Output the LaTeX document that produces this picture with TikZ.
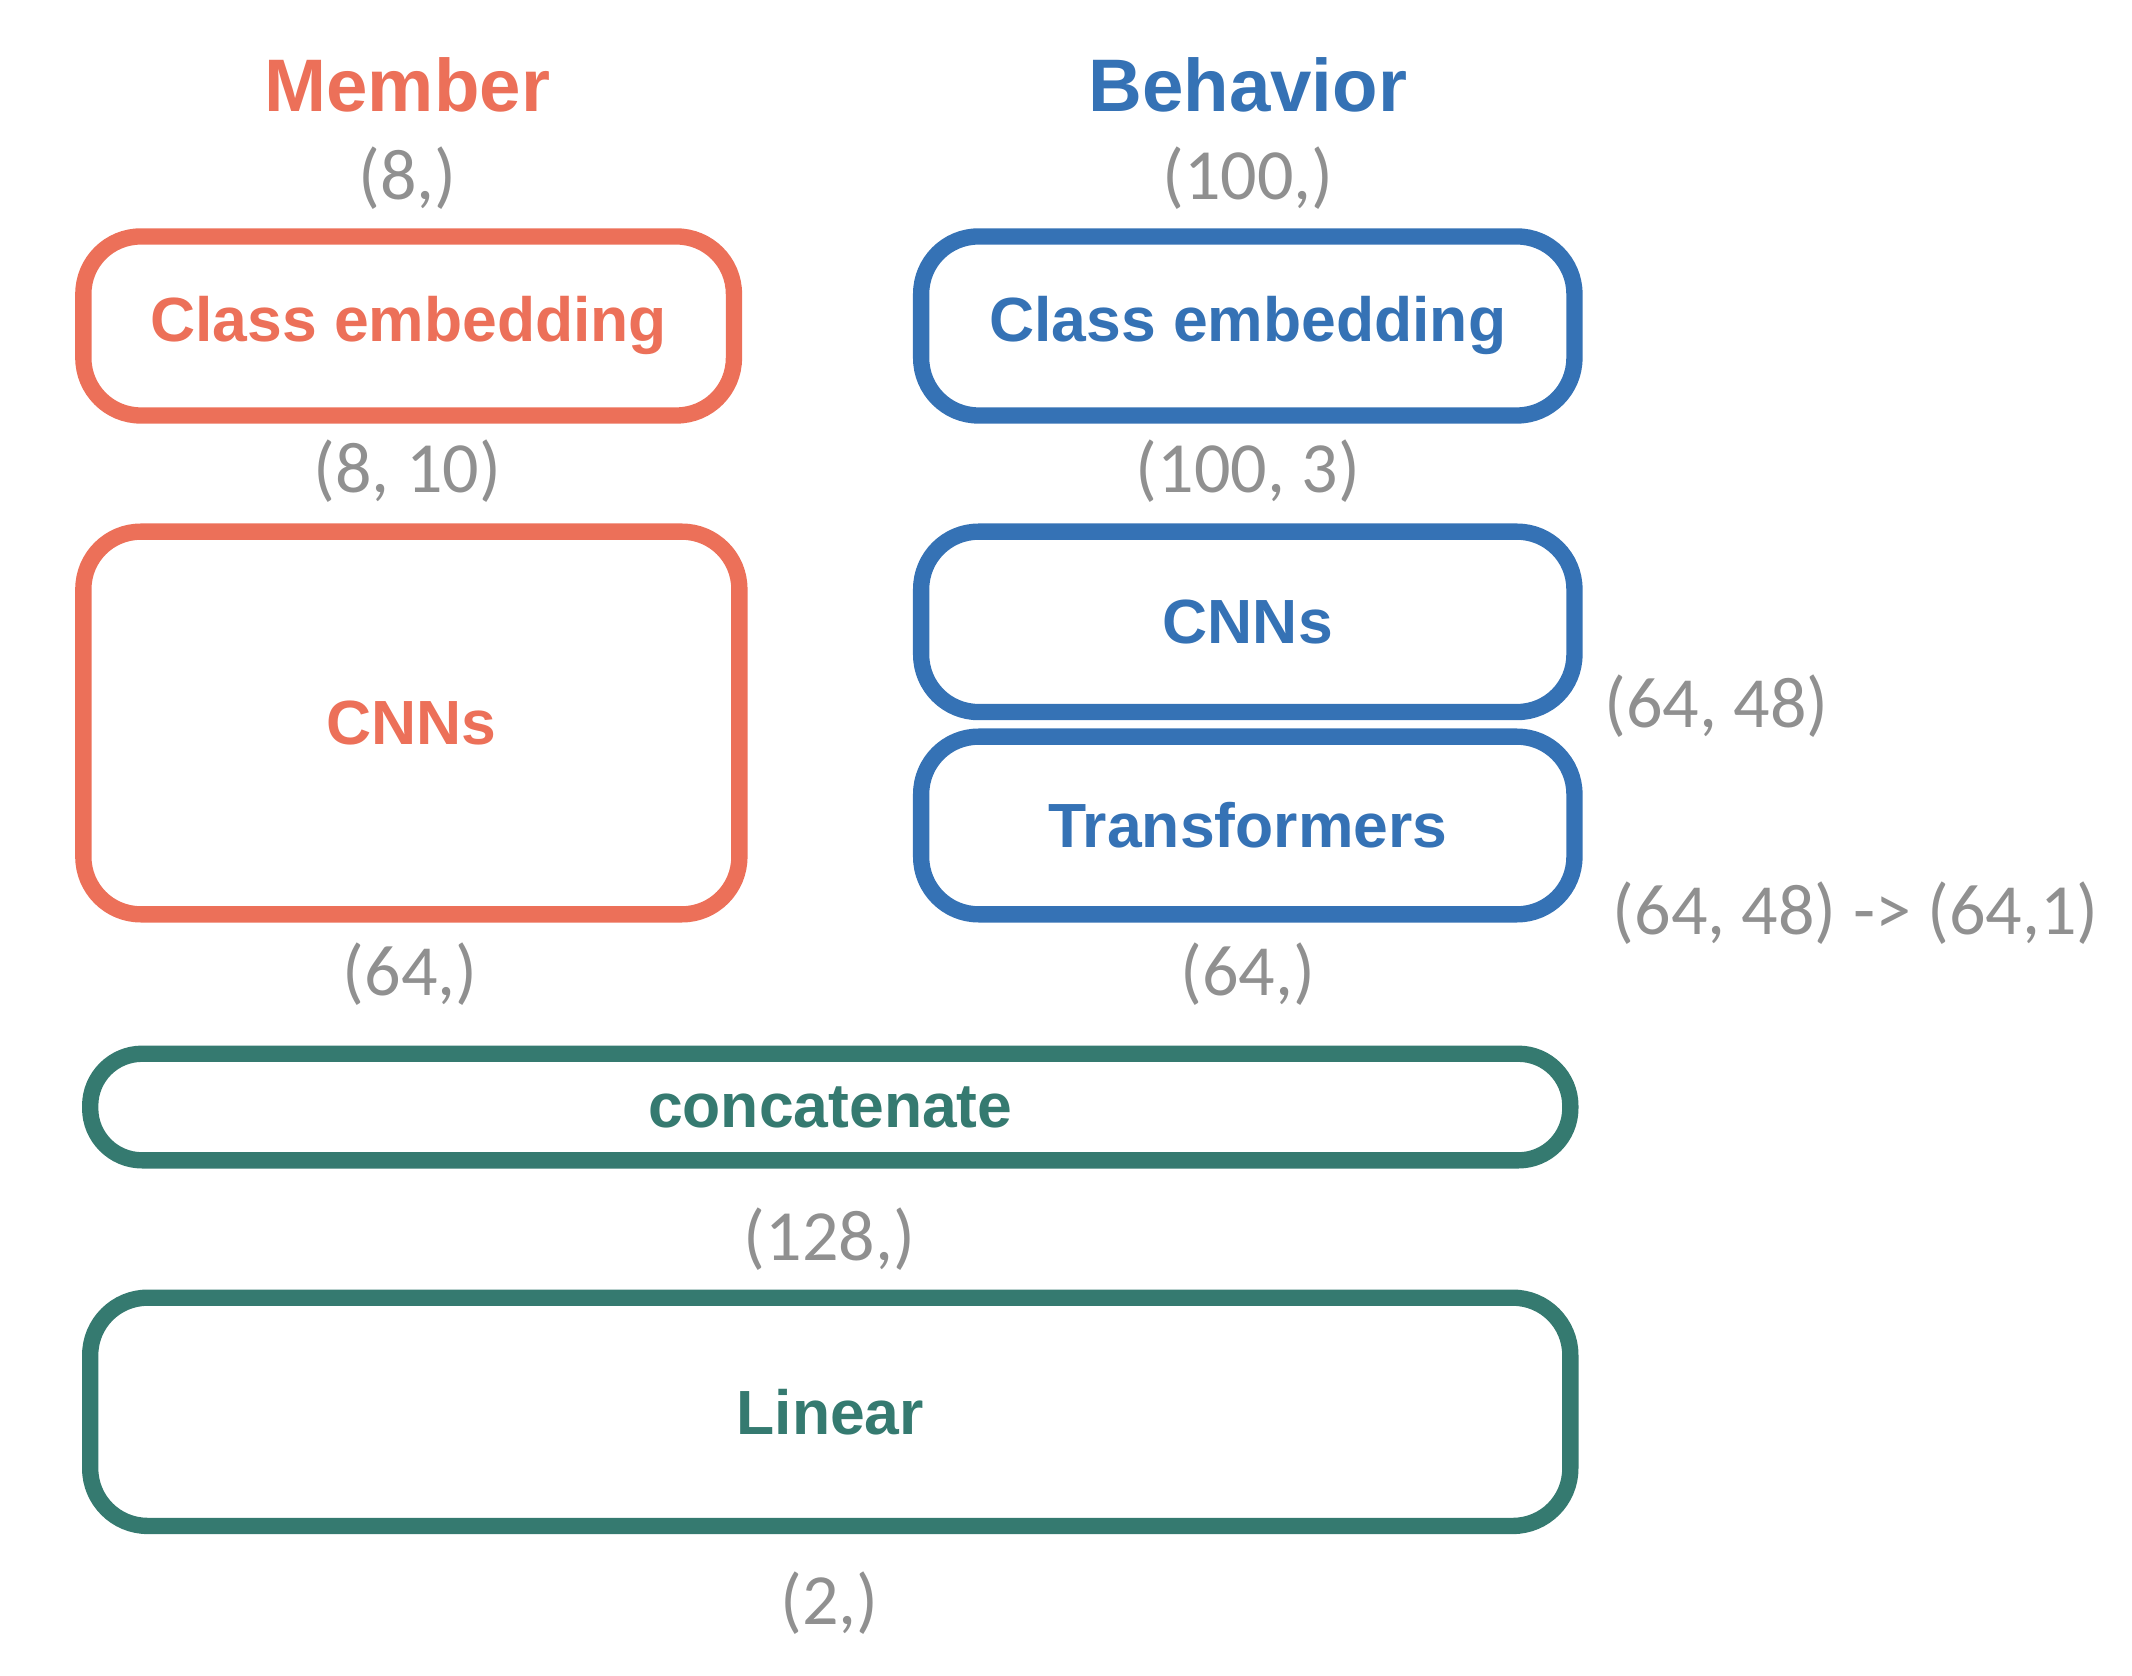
\documentclass[tikz,border=0pt]{standalone}
\usepackage{fontspec}
\setmainfont{Liberation Sans}
\newfontfamily\dimfont{Carlito}
\usepackage{tikz}

\definecolor{memcol}{HTML}{EC7059}
\definecolor{behcol}{HTML}{3572B5}
\definecolor{outcol}{HTML}{357A70}
\definecolor{dimcol}{HTML}{909090}

\begin{document}
\begin{tikzpicture}[every node/.style={inner sep=0pt, outer sep=0pt},
	layer/.style={draw, line width=3.4pt, rounded corners=0.42cm, font=\fontsize{13}{15}\selectfont\bfseries},
	title/.style={font=\fontsize{15.5}{18}\selectfont\bfseries},
	dims/.style={text=dimcol, font=\fontsize{15}{18}\selectfont\dimfont}]
			\useasboundingbox (0,0) rectangle (15.6,-12.26);
			
			\node[title, text=memcol] (memtitle) at (2.98,-0.62){Member};
			\node[title, text=behcol] (behtitle) at (9.13,-0.62){Behavior};
			\node[dims] (memin) at (2.98,-1.30){(8,)};
			\node[dims] (behin) at (9.13,-1.30){(100,)};
			
			\node[layer, draw=memcol, text=memcol, minimum width=4.76cm, minimum height=1.31cm] (mememb) at (2.99,-2.385){Class embedding};
			\node[layer, draw=behcol, text=behcol, minimum width=4.78cm, minimum height=1.31cm] (behemb) at (9.13,-2.385){Class embedding};
			\node[dims] (memembout) at (2.98,-3.45){(8, 10)};
			\node[dims] (behembout) at (9.13,-3.45){(100, 3)};
			
			\node[layer, draw=memcol, text=memcol, minimum width=4.80cm, minimum height=2.80cm] (memcnn) at (3.01,-5.29){CNNs};
			\node[layer, draw=behcol, text=behcol, minimum width=4.78cm, minimum height=1.32cm] (behcnn) at (9.13,-4.55){CNNs};
			\node[layer, draw=behcol, text=behcol, minimum width=4.78cm, minimum height=1.30cm] (behtrf) at (9.13,-6.04){Transformers};
			\node[dims, anchor=west] (behcnnout) at (11.74,-5.17){(64, 48)};
			\node[dims, anchor=west] (behtrfout) at (11.80,-6.68){(64, 48) -> (64,1)};
			\node[dims] (memout) at (3.00,-7.13){(64,)};
			\node[dims] (behout) at (9.13,-7.13){(64,)};
			
			\node[layer, draw=outcol, text=outcol, rounded corners=0.38cm, minimum width=10.83cm, minimum height=0.78cm] (concat) at (6.075,-8.10){concatenate};
			\node[dims] (concatout) at (6.07,-9.07){(128,)};
			\node[layer, draw=outcol, text=outcol, minimum width=10.83cm, minimum height=1.67cm] (linear) at (6.075,-10.33){Linear};
			\node[dims] (linearout) at (6.07,-11.73){(2,)};
			\end{tikzpicture}
\end{document}
